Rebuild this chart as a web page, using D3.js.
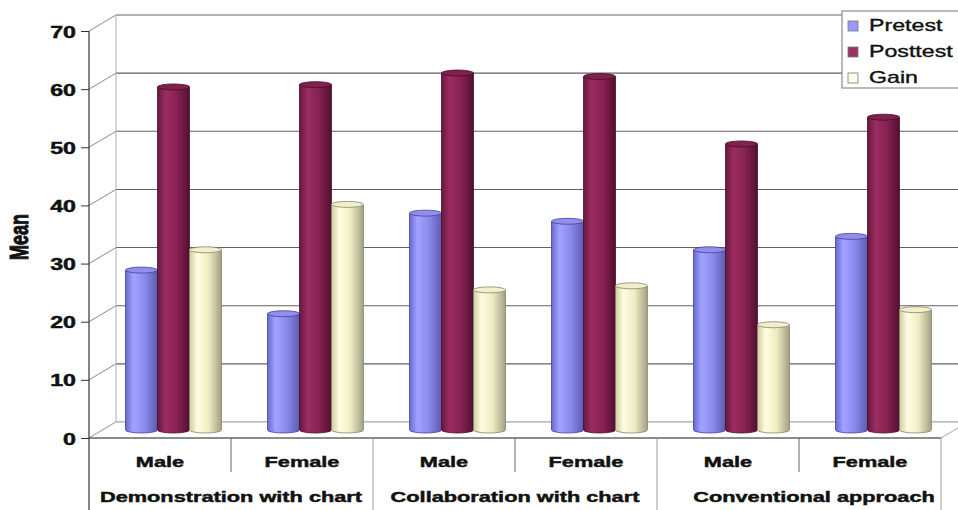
<!DOCTYPE html>
<html>
<head>
<meta charset="utf-8">
<script src="https://cdn.jsdelivr.net/npm/d3@7"></script>
<style>
  html, body { margin: 0; padding: 0; background: #fff; }
  svg { display: block; font-family: "Liberation Sans", Arial, sans-serif; }
</style>
</head>
<body>
<svg id="chart" width="958" height="510"></svg>
<script>
// ---- data ----
const seriesNames = ["Pretest", "Posttest", "Gain"];
const subLabels = ["Male", "Female", "Male", "Female", "Male", "Female"];
const groupLabels = ["Demonstration with chart", "Collaboration with chart", "Conventional approach"];
const pretest  = [27.5, 20.0, 37.3, 35.9, 31.0, 33.3];
const posttest = [59.0, 59.4, 61.4, 60.8, 49.2, 53.8];
const gain     = [31.0, 38.8, 24.1, 24.8, 18.1, 20.7];
const yTicks   = [0, 10, 20, 30, 40, 50, 60, 70];
const yTitle   = "Mean";

const seriesValues = [pretest, posttest, gain];

// ---- layout ----
const W = 958, H = 510;
const left = 89, right = 941, floorY = 438, topY = 31;
const DX = 27, DY = -16;          // depth of the 3-D box
const TEXT_SX = 1.45;             // horizontal text stretch
const groupLabelShift = [0, 0, 15];

const svg = d3.select("#chart");

const x = d3.scaleBand().domain(d3.range(subLabels.length)).range([left, right]).padding(0);
const xs = d3.scaleBand().domain(seriesNames).range([0, x.bandwidth()])
  .paddingInner(0).paddingOuter(0.72);
const y = d3.scaleLinear().domain([0, 70]).range([floorY, topY]);

const fills = {
  Pretest:  { stops: ["#6a6ad0", "#a2a2ff", "#8a8aee", "#5c5cb0"], top: "#9090ea", line: "#40409a" },
  Posttest: { stops: ["#661840", "#9c2c60", "#882252", "#521030"], top: "#80204c", line: "#460c28" },
  Gain:     { stops: ["#cfcda2", "#fffde0", "#eeecc2", "#a2a084"], top: "#f2f0ca", line: "#86846c" }
};

// gradients for the cylinders
const defs = svg.append("defs");
seriesNames.forEach(s => {
  const g = defs.append("linearGradient").attr("id", "grad-" + s)
    .attr("x1", "0").attr("x2", "1").attr("y1", "0").attr("y2", "0");
  [0, 0.25, 0.6, 1].forEach((o, i) =>
    g.append("stop").attr("offset", o).attr("stop-color", fills[s].stops[i]));
});

// helper for stretched, heavy text
function stretchedText(parent, tx, ty, str, opts) {
  const g = parent.append("g")
    .attr("transform", `translate(${tx},${ty}) scale(${TEXT_SX},1)` + (opts.rotate ? ` rotate(${opts.rotate})` : ""));
  return g.append("text")
    .attr("text-anchor", opts.anchor || "middle")
    .attr("font-size", opts.size)
    .attr("font-weight", opts.weight || "bold")
    .attr("fill", opts.fill || "#111")
    .attr("stroke", opts.fill || "#111")
    .attr("stroke-width", opts.stroke == null ? 0.45 : opts.stroke)
    .text(str);
}

// ---- back wall gridlines ----
const wall = svg.append("g");
wall.selectAll("line.grid").data(yTicks).join("line")
  .attr("class", "grid")
  .attr("x1", left + DX).attr("x2", right + DX)
  .attr("y1", d => y(d) + DY).attr("y2", d => y(d) + DY)
  .attr("stroke", d => d === 0 ? "#a8a8a8" : "#626262").attr("stroke-width", 1.1);

// left side wall diagonals
wall.selectAll("line.side").data(yTicks).join("line")
  .attr("class", "side")
  .attr("x1", left).attr("x2", left + DX)
  .attr("y1", d => y(d)).attr("y2", d => y(d) + DY)
  .attr("stroke", "#8a8a8a").attr("stroke-width", 1);

// back wall left edge
wall.append("line")
  .attr("x1", left + DX).attr("x2", left + DX)
  .attr("y1", y(70) + DY).attr("y2", y(0) + DY)
  .attr("stroke", "#b0b0b0");

// floor
wall.append("path")
  .attr("d", `M${left},${y(0)} L${right},${y(0)} L${right + DX},${y(0) + DY} L${left + DX},${y(0) + DY} Z`)
  .attr("fill", "#fff").attr("stroke", "#a8a8a8").attr("stroke-width", 1);

// ---- bars (cylinders) ----
const ry = 3;
const bars = svg.append("g");
subLabels.forEach((lab, i) => {
  seriesNames.forEach((s, k) => {
    const v = seriesValues[k][i];
    const x0 = x(i) + xs(s) + DX / 2;
    const w = xs.bandwidth();
    const x1 = x0 + w;
    const yb = y(0) + DY / 2;
    const yt = y(v) + DY / 2;
    const rx = w / 2;
    bars.append("path")
      .attr("d", `M${x0},${yt} L${x0},${yb} A${rx},${ry} 0 0 0 ${x1},${yb} L${x1},${yt} Z`)
      .attr("fill", `url(#grad-${s})`)
      .attr("stroke", fills[s].line).attr("stroke-width", 0.8);
    bars.append("ellipse")
      .attr("cx", x0 + rx).attr("cy", yt).attr("rx", rx).attr("ry", ry)
      .attr("fill", fills[s].top)
      .attr("stroke", fills[s].line).attr("stroke-width", 0.8);
  });
});

// ---- y axis ----
const yAxis = svg.append("g").attr("transform", `translate(${left},0)`)
  .call(d3.axisLeft(y).tickValues(yTicks).tickSize(8).tickSizeOuter(0));
yAxis.select(".domain").remove();
yAxis.selectAll(".tick line").attr("stroke", "#333");
yAxis.selectAll(".tick text").remove();
yAxis.selectAll(".tick").each(function(d) {
  stretchedText(d3.select(this), -13, 6, d, { anchor: "end", size: 16 });
});
svg.append("line")
  .attr("x1", left).attr("x2", left).attr("y1", y(70)).attr("y2", H)
  .attr("stroke", "#333").attr("stroke-width", 1.2);

// front floor edge / top of category table
svg.append("line")
  .attr("x1", left).attr("x2", right).attr("y1", y(0)).attr("y2", y(0))
  .attr("stroke", "#444").attr("stroke-width", 1.2);

// ---- category table ----
const table = svg.append("g");
subLabels.forEach((lab, i) => {
  const xr = x(i) + x.bandwidth();
  const outer = i % 2 === 1;
  table.append("line")
    .attr("x1", xr).attr("x2", xr)
    .attr("y1", y(0)).attr("y2", outer ? H : y(0) + 34)
    .attr("stroke", outer ? "#9a9a9a" : "#666").attr("stroke-width", 1);
  stretchedText(table, x(i) + x.bandwidth() / 2, 467, lab, { size: 15 });
});
groupLabels.forEach((lab, j) => {
  const cx = x(2 * j) + x.bandwidth() + groupLabelShift[j];
  stretchedText(table, cx, 502, lab, { size: 15 });
});

// y-axis title
stretchedText(svg, 28, 237, yTitle, { size: 18, rotate: -90, stroke: 0.7 });

// ---- legend ----
const legend = svg.append("g");
legend.append("rect")
  .attr("x", 842).attr("y", 11).attr("width", 130).attr("height", 77)
  .attr("fill", "#fff").attr("stroke", "#8c8c8c").attr("stroke-width", 1.2);
const legendSwatch = { Pretest: "#9999ff", Posttest: "#993366", Gain: "#ffffee" };
seriesNames.forEach((s, k) => {
  const yy = 21 + k * 26;
  legend.append("rect")
    .attr("x", 848).attr("y", yy).attr("width", 10).attr("height", 10)
    .attr("fill", legendSwatch[s]).attr("stroke", "#777").attr("stroke-width", 0.8);
  stretchedText(legend, 869, yy + 9.5, s, { anchor: "start", size: 16, weight: "normal", stroke: 0.35 });
});
</script>
</body>
</html>
